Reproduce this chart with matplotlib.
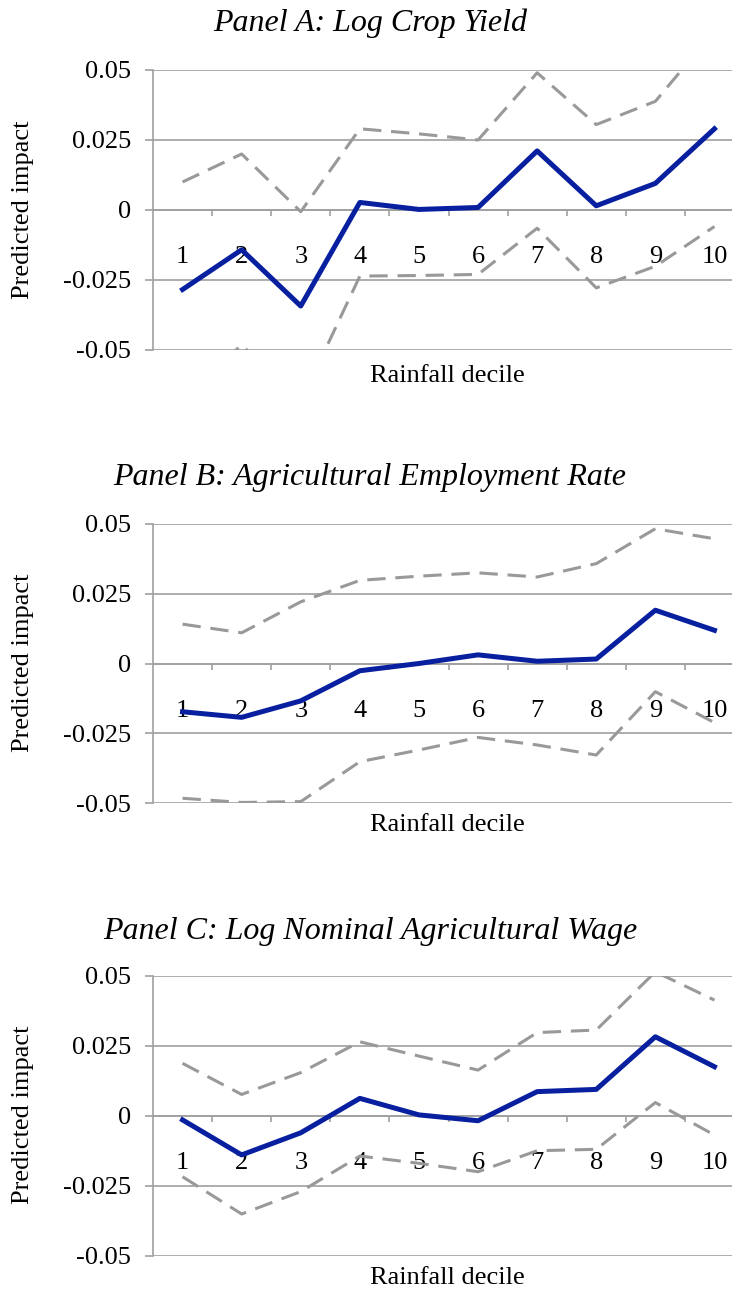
import matplotlib
matplotlib.use("Agg")
from matplotlib import pyplot as plt

plt.rcParams['font.family'] = ['Liberation Serif', 'DejaVu Serif']

deciles = [1, 2, 3, 4, 5, 6, 7, 8, 9, 10]
decile_labels = ["1", "2", "3", "4", "5", "6", "7", "8", "9", "10"]
y_ticks = [-0.05, -0.025, 0, 0.025, 0.05]
y_tick_labels = ["-0.05", "-0.025", "0", "0.025", "0.05"]

titles = ["Panel A: Log Crop Yield",
          "Panel B: Agricultural Employment Rate",
          "Panel C: Log Nominal Agricultural Wage"]

# panel A - log crop yield
crop_est = [-0.0284, -0.0142, -0.0343, 0.0027, 0.0002, 0.0009, 0.0211, 0.0015, 0.0095, 0.0290]
crop_hi = [0.0100, 0.0200, -0.0006, 0.0290, 0.0272, 0.0250, 0.0490, 0.0305, 0.0388, 0.0640]
crop_lo = [-0.0668, -0.0482, -0.0685, -0.0236, -0.0234, -0.0230, -0.0065, -0.0278, -0.0201, -0.0059]

# panel B - agricultural employment rate
emp_est = [-0.0173, -0.0193, -0.0134, -0.0026, 0.0000, 0.0031, 0.0008, 0.0016, 0.0191, 0.0119]
emp_hi = [0.0141, 0.0110, 0.0221, 0.0298, 0.0313, 0.0325, 0.0310, 0.0358, 0.0483, 0.0447]
emp_lo = [-0.0483, -0.0498, -0.0495, -0.0352, -0.0310, -0.0265, -0.0292, -0.0328, -0.0101, -0.0212]

# panel C - log nominal agricultural wage
wage_est = [-0.0014, -0.0139, -0.0060, 0.0063, 0.0004, -0.0017, 0.0087, 0.0095, 0.0283, 0.0176]
wage_hi = [0.0188, 0.0077, 0.0155, 0.0265, 0.0214, 0.0164, 0.0298, 0.0307, 0.0515, 0.0414]
wage_lo = [-0.0217, -0.0350, -0.0270, -0.0143, -0.0169, -0.0199, -0.0124, -0.0119, 0.0048, -0.0068]

panels = [(crop_est, crop_hi, crop_lo),
          (emp_est, emp_hi, emp_lo),
          (wage_est, wage_hi, wage_lo)]

W, H = 732, 1291
fig = plt.figure(figsize=(W / 100, H / 100), dpi=100)

# pixel layout: (axes top, axes bottom, title y, xlabel y, ylabel y)
layout = [(70, 350, 23, 376, 210),
          (524, 803, 478, 825, 663),
          (976, 1256, 931, 1278, 1115)]

GRID = "#a0a0a0"
BLUE = "#0820a0"
DASH = "#999999"

left_px, right_px = 153, 744

for (est, hi, lo), (top, bot, ty, xy, yy), title in zip(panels, layout, titles):
    ax = fig.add_axes([left_px / W, 1 - bot / H, (right_px - left_px) / W, (bot - top) / H])

    ax.plot(deciles, hi, color=DASH, lw=2.2, dashes=(6, 3.2), zorder=3)
    ax.plot(deciles, lo, color=DASH, lw=2.2, dashes=(6, 3.2), zorder=3)
    ax.plot(deciles, est, color=BLUE, lw=3.6, solid_joinstyle='round', zorder=4)

    ax.set_xlim(0.5, 10.5)
    ax.set_ylim(-0.05, 0.05)

    ax.set_yticks(y_ticks)
    ax.set_yticklabels(y_tick_labels)
    ax.grid(axis='y', color=GRID, lw=1.2)
    ax.set_axisbelow(True)

    ax.set_xticks(deciles)
    ax.set_xticklabels(decile_labels)
    ax.set_xticks([d + 0.5 for d in deciles[:-1]], minor=True)
    ax.tick_params(axis='x', which='major', length=0, pad=26, labelsize=19)
    ax.tick_params(axis='x', which='minor', length=4, width=1.2, color=GRID, direction='out')
    ax.tick_params(axis='y', length=6, width=1.2, color=GRID, direction='out', pad=10, labelsize=19)

    for side in ['top', 'right']:
        ax.spines[side].set_visible(False)
    ax.spines['bottom'].set_position(('data', 0))
    ax.spines['bottom'].set_color(GRID)
    ax.spines['bottom'].set_linewidth(1.2)
    ax.spines['left'].set_color(GRID)
    ax.spines['left'].set_linewidth(1.2)

    fig.text(370 / W, 1 - ty / H, title, fontsize=23, style='italic', ha='center', va='center')
    fig.text(447 / W, 1 - xy / H, "Rainfall decile", fontsize=19, ha='center', va='center')
    fig.text(23 / W, 1 - yy / H, "Predicted impact", fontsize=19, rotation=90, ha='center', va='center')

plt.savefig("out.png", dpi=100)
